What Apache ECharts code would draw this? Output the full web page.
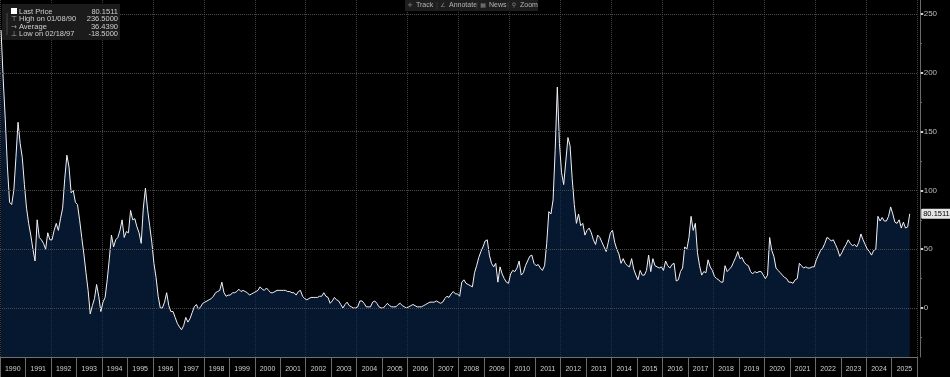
<!DOCTYPE html>
<html>
<head>
<meta charset="utf-8">
<script src="https://cdn.jsdelivr.net/npm/echarts@6/dist/echarts.min.js"></script>
<style>
  html, body { margin: 0; padding: 0; background: #000; }
  #chart { width: 950px; height: 377px; }
</style>
</head>
<body>
<div id="chart"></div>
<script>
// year labels along the bottom strip
const years = [];
for (let y = 1990; y <= 2025; y++) years.push(y);

// monthly values, Jan 1990 .. Sep 2025
const values1990s = [
  236.5, 195, 160, 120, 90, 88, 100, 128, 158, 140, 128, 105,
  85, 72, 62, 50, 40, 75, 60, 58, 55, 50, 64, 58,
  58, 66, 72, 66, 76, 85, 110, 130, 120, 98, 100, 90,
  88, 75, 60, 46, 30, 15, -5, 2, 8, 20, 10, -3,
  5, 9, 24, 42, 62, 52, 58, 60, 66, 75, 60, 65,
  64, 83, 75, 76, 69, 64, 55, 85, 102, 84, 70, 56,
  38, 26, 10, 0, 0, 5, 13, 2, -3, -3, -8, -13,
  -16, -18.5, -15, -8, -12, -9, -4, 1, 3, -1, 1, 4,
  5, 6, 7, 8, 10, 13, 14, 15, 22, 13, 10, 11,
  11, 13, 13, 14, 16, 14, 15, 14, 13, 11, 12, 13
];
const values2000s = [
  14, 15, 18, 16, 15, 17, 15, 13, 13, 14, 15, 15,
  15, 15, 15, 14, 14, 13, 13, 11, 14, 15, 10, 8,
  7, 8, 9, 9, 9, 9, 10, 10, 13, 10, 9, 4,
  6, 9, 7, 6, 3, 0, 3, 5, 2, 1, 0, 0,
  1, 6, 6, 4, 1, 1, 1, 5, 6, 4, 1, 0,
  0, 2, 4, 2, 1, 1, 1, 3, 4, 2, 1, 0,
  1, 2, 3, 2, 1, 1, 1, 2, 3, 4, 5, 5,
  5, 6, 5, 4, 5, 8, 10, 9, 12, 14, 12, 12,
  10, 22, 24, 21, 20, 19, 18, 30, 36, 43, 48, 52,
  57, 58, 45, 38, 35, 38, 22, 35, 29, 25, 22, 21
];
const values2010s = [
  29, 32, 31, 34, 40, 28, 30, 36, 40, 44, 45, 38,
  36, 37, 34, 32, 36, 55, 82, 80, 92, 135, 188, 140,
  115, 105, 125, 145, 138, 110, 88, 72, 80, 70, 72, 62,
  66, 68, 64, 58, 54, 62, 60, 56, 52, 48, 56, 64,
  66, 56, 50, 46, 38, 42, 38, 36, 35, 42, 33, 28,
  24, 32, 28, 28, 32, 45, 31, 42, 36, 35, 34, 35,
  32, 40, 36, 34, 37, 38, 23, 24, 31, 34, 52, 50,
  60, 78, 66, 72, 47, 36, 28, 31, 30, 41, 35, 32,
  27, 25, 24, 22, 22, 36, 31, 33, 35, 39, 43, 48,
  42, 43, 39, 37, 36, 31, 29, 31, 30, 31, 31, 28
];
const values2020s = [
  25, 28, 60, 49, 44, 34, 32, 30, 28, 26, 25, 22,
  22, 21, 24, 25, 38, 36, 34, 35, 34, 34, 35, 35,
  41, 45, 49, 51, 55, 60, 59, 57, 58, 54, 50, 44,
  47, 51, 54, 58, 55, 53, 54, 52, 56, 63, 58, 54,
  50, 48, 45, 49, 50, 78, 74, 77, 74, 74, 78, 86,
  80, 73, 72, 75, 68, 73, 68, 69, 80.1511
];

const yTicks = [0, 50, 100, 150, 200, 250];
const yMinorTicks = [-25, 25, 75, 125, 175, 225];
const lastPrice = 80.1511;

const legendRows = ['Last Price', 'High on 01/08/90', 'Average', 'Low on 02/18/97'];
const legendValues = ['80.1511', '236.5000', '36.4390', '-18.5000'];
const legendIcons = ['', '\u22A4', '\u2192', '\u22A5'];
const toolItems = ['Track', 'Annotate', 'News', 'Zoom'];
const toolIcons = ['\u271B', '\u2220', '\u25A6', '\u26B2'];

const monthly = [].concat(values1990s, values2000s, values2010s, values2020s);
const seriesData = monthly.map((v, i) => [1990 + (i + 0.5) / 12, v]);

const font = 'Liberation Sans';

// header boxes (legend + toolbar)
const graphics = [
  { type: 'rect', shape: { x: 2, y: 4, width: 118, height: 36 }, style: { fill: '#1b1b1b' }, z: 100 },
  { type: 'line', shape: { x1: 7, y1: 13, x2: 7, y2: 35 }, style: { stroke: '#4a4a4a', lineWidth: 1 }, z: 101 },
  { type: 'rect', shape: { x: 11, y: 8, width: 6, height: 6 }, style: { fill: '#ffffff' }, z: 101 },
  { type: 'rect', shape: { x: 405, y: 0, width: 133, height: 11 }, style: { fill: '#1e1e1e' }, z: 100 }
];
legendRows.forEach((label, i) => {
  const y = 11.5 + i * 7.6;
  if (legendIcons[i]) {
    graphics.push({ type: 'text', x: 14, y: y, z: 101,
      style: { text: legendIcons[i], fill: '#aaa', font: '7px DejaVu Sans', align: 'center', verticalAlign: 'middle' } });
  }
  graphics.push({ type: 'text', x: 19, y: y, z: 101,
    style: { text: label, fill: '#cfcfcf', font: '7.5px ' + font, verticalAlign: 'middle' } });
  graphics.push({ type: 'text', x: 118, y: y, z: 101,
    style: { text: legendValues[i], fill: '#cfcfcf', font: '7.5px ' + font, align: 'right', verticalAlign: 'middle' } });
});
const toolX = [410, 443, 483, 514];
toolItems.forEach((label, i) => {
  graphics.push({ type: 'text', x: toolX[i], y: 5.5, z: 101,
    style: { text: toolIcons[i], fill: '#888', font: '6px DejaVu Sans', align: 'center', verticalAlign: 'middle' } });
  graphics.push({ type: 'text', x: toolX[i] + 6, y: 5.5, z: 101,
    style: { text: label, fill: '#b5b5b5', font: '7px ' + font, verticalAlign: 'middle' } });
  if (i > 0) {
    graphics.push({ type: 'line', shape: { x1: toolX[i] - 6, y1: 2, x2: toolX[i] - 6, y2: 9 }, z: 101,
      style: { stroke: '#333', lineWidth: 1 } });
  }
});

const gridLines = yTicks.map(v => ({ yAxis: v }));
gridLines.push({
  yAxis: lastPrice,
  lineStyle: { color: 'rgba(0,0,0,0)', width: 0 },
  label: {
    show: true, position: 'end', distance: 4, formatter: '80.1511',
    backgroundColor: '#e6e6e6', color: '#000', padding: [1, 2, 1, 2],
    fontFamily: font, fontSize: 7.5, borderRadius: 1
  }
});

const chart = echarts.init(document.getElementById('chart'));
chart.setOption({
  backgroundColor: '#000',
  animation: false,
  grid: { left: 0, right: 32.8, top: 0, bottom: 20 },
  xAxis: [
    {
      type: 'value', min: 1990, max: 2026, interval: 2, position: 'top',
      axisLabel: { show: false }, axisLine: { show: false }, axisTick: { show: false },
      splitLine: { show: true, lineStyle: { color: '#3f3f3f', type: 'dotted', width: 1 } }
    },
    {
      type: 'category', data: years, position: 'bottom', boundaryGap: true,
      axisLine: { show: true, onZero: false, lineStyle: { color: '#707070' } },
      axisTick: { show: true, interval: 0, length: 20, lineStyle: { color: '#6a6a6a' } },
      axisLabel: { interval: 0, color: '#cfcfcf', fontFamily: font, fontSize: 7, margin: 9 },
      splitLine: { show: false }
    }
  ],
  yAxis: [
    {
      type: 'value', position: 'right', min: -41.67, max: 262, offset: 3.5,
      splitLine: { show: false },
      axisLine: { show: true, onZero: false, lineStyle: { color: '#6a6a6a' } },
      axisTick: { show: true, customValues: yTicks, length: 2.5, lineStyle: { color: '#cfcfcf', width: 2 } },
      axisLabel: { customValues: yTicks, color: '#bdbdbd', fontFamily: font, fontSize: 8, margin: 3 }
    },
    {
      type: 'value', position: 'right', min: -41.67, max: 262, offset: 3.5,
      splitLine: { show: false }, axisLine: { show: false }, axisLabel: { show: false },
      axisTick: { show: true, customValues: yMinorTicks, length: 1.2, lineStyle: { color: '#777', width: 1 } }
    }
  ],
  series: [
    {
      type: 'line',
      xAxisIndex: 0,
      yAxisIndex: 0,
      data: seriesData,
      symbol: 'none',
      clip: false,
      lineStyle: { color: '#f2f2f2', width: 1 },
      areaStyle: { origin: 'start', color: 'rgba(10, 40, 80, 0.85)' },
      markLine: {
        silent: true,
        symbol: ['none', 'none'],
        label: { show: false },
        lineStyle: { color: '#4a4a4a', type: 'dotted', width: 1 },
        data: gridLines
      }
    }
  ],
  graphic: graphics
});
</script>
</body>
</html>
